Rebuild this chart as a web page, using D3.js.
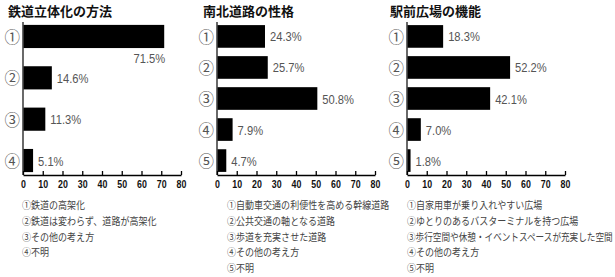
<!DOCTYPE html>
<html>
<head>
<meta charset="utf-8">
<script src="https://cdn.jsdelivr.net/npm/d3@7"></script>
<style>
  html, body { margin: 0; padding: 0; background: #fff; }
  svg { display: block; }
</style>
</head>
<body>
<svg id="chart" width="615" height="277"></svg>
<script>
// Survey results: three horizontal bar panels (percent of respondents)
const titles = ["鉄道立体化の方法", "南北道路の性格", "駅前広場の機能"];

const railValues  = [71.5, 14.6, 11.3, 5.1];
const roadValues  = [24.3, 25.7, 50.8, 7.9, 4.7];
const plazaValues = [18.3, 52.2, 42.1, 7.0, 1.8];

const rowMarks = ["①", "②", "③", "④", "⑤"];

const railLegend = [
  "①鉄道の高架化",
  "②鉄道は変わらず、道路が高架化",
  "③その他の考え方",
  "④不明"
];
const roadLegend = [
  "①自動車交通の利便性を高める幹線道路",
  "②公共交通の軸となる道路",
  "③歩道を充実させた道路",
  "④その他の考え方",
  "⑤不明"
];
const plazaLegend = [
  "①自家用車が乗り入れやすい広場",
  "②ゆとりのあるバスターミナルを持つ広場",
  "③歩行空間や休憩・イベントスペースが充実した空間",
  "④その他の考え方",
  "⑤不明"
];

const xTicks = [0, 10, 20, 30, 40, 50, 60, 70, 80];
const xMax = 80;

const panels = [
  { title: titles[0], values: railValues,  legend: railLegend,  left: 23,  titleX: 8,   legendX: 22 },
  { title: titles[1], values: roadValues,  legend: roadLegend,  left: 217, titleX: 203, legendX: 227 },
  { title: titles[2], values: plazaValues, legend: plazaLegend, left: 407, titleX: 390, legendX: 407 }
];

const JP = "'Noto Sans CJK JP', 'Noto Sans', sans-serif";
const NUM = "'Liberation Sans', Arial, sans-serif";
const W = 615;
const plotTop = 22, plotBottom = 175, plotWidth = 158;
const legendScale = 0.86;

const svg = d3.select("#chart");

panels.forEach(p => {
  const g = svg.append("g");
  const n = p.values.length;
  const rows = p.values.map((v, i) => ({ v, mark: rowMarks[i] }));

  const x = d3.scaleLinear().domain([0, xMax]).range([p.left, p.left + plotWidth]);
  const y = d3.scaleBand()
    .domain(d3.range(n))
    .range([plotTop, plotBottom])
    .paddingInner(n === 4 ? 0.44 : 0.27)
    .paddingOuter(n === 4 ? 0.07 : 0.1);

  // title
  g.append("text")
    .attr("x", p.titleX).attr("y", 16)
    .attr("font-family", JP).attr("font-weight", 700).attr("font-size", 13)
    .attr("fill", "#111")
    .text(p.title);

  // bars
  g.selectAll("rect.bar").data(rows).join("rect")
    .attr("class", "bar")
    .attr("x", x(0))
    .attr("y", (d, i) => y(i))
    .attr("width", d => x(d.v) - x(0))
    .attr("height", y.bandwidth())
    .attr("fill", "#000");

  // row markers
  g.selectAll("text.mark").data(rows).join("text")
    .attr("class", "mark")
    .attr("x", x(0) - 3)
    .attr("y", (d, i) => y(i) + y.bandwidth() / 2 + 1)
    .attr("dy", "0.36em")
    .attr("text-anchor", "end")
    .attr("font-family", JP).attr("font-size", 15.5)
    .attr("fill", "#555")
    .text(d => d.mark);

  // value labels: long bars carry their label underneath the bar end
  g.selectAll("text.val").data(rows).join("text")
    .attr("class", "val")
    .attr("transform", (d, i) => {
      const below = d.v > 60;
      const tx = below ? x(d.v) + 1 : x(d.v) + 5;
      const ty = below ? y(i) + y.bandwidth() + 15 : y(i) + y.bandwidth() / 2 + 5;
      return `translate(${tx},${ty}) scale(0.86,1)`;
    })
    .attr("text-anchor", d => d.v > 60 ? "end" : "start")
    .attr("font-family", NUM).attr("font-size", 13)
    .attr("fill", "#555")
    .text(d => d.v.toFixed(1) + "%");

  // vertical baseline
  g.append("line")
    .attr("x1", x(0)).attr("x2", x(0))
    .attr("y1", plotTop).attr("y2", plotBottom)
    .attr("stroke", "#444").attr("stroke-width", 1.6);

  // x axis with inward ticks
  const ax = g.append("g")
    .attr("transform", `translate(0,${plotBottom})`)
    .call(d3.axisBottom(x).tickValues(xTicks).tickSizeInner(-4).tickSizeOuter(0).tickPadding(5));
  ax.select(".domain").attr("stroke", "#000").attr("stroke-width", 1.6);
  ax.selectAll(".tick line").attr("stroke", "#000").attr("stroke-width", 1.3);
  ax.selectAll(".tick text")
    .attr("y", 13)
    .attr("dy", 0)
    .attr("transform", "scale(0.8,1)")
    .attr("font-family", NUM).attr("font-size", 11).attr("font-weight", 700)
    .attr("fill", "#111");

  // legend, squeezed further when a line would run past the right edge
  g.selectAll("text.leg").data(p.legend).join("text")
    .attr("class", "leg")
    .attr("font-family", JP).attr("font-size", 10.5)
    .attr("fill", "#444")
    .text(d => d)
    .attr("transform", function (d, i) {
      const natural = this.getComputedTextLength();
      const room = W - 2 - p.legendX;
      const s = Math.min(legendScale, room / natural);
      return `translate(${p.legendX},${209 + i * 15.8}) scale(${s},1)`;
    });
});
</script>
</body>
</html>
